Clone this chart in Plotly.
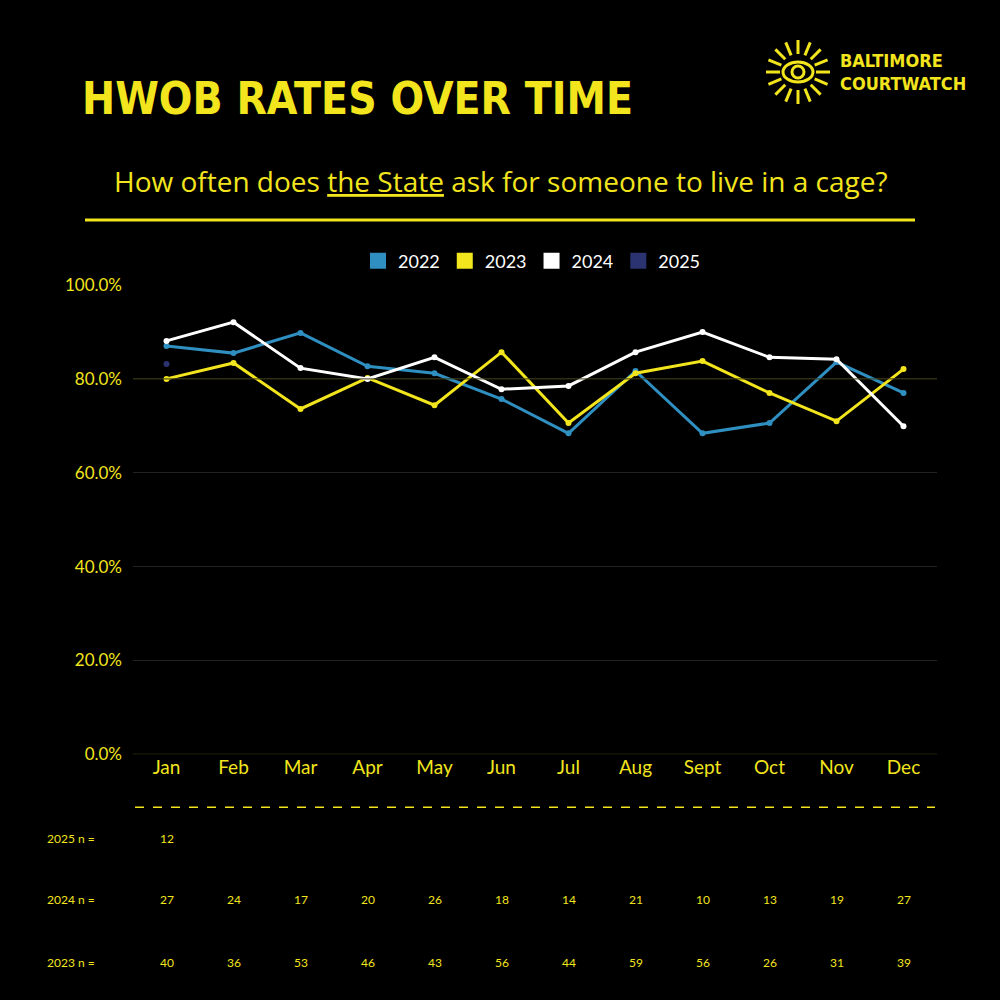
import plotly.graph_objects as go
import math

months = ["Jan","Feb","Mar","Apr","May","Jun","Jul","Aug","Sept","Oct","Nov","Dec"]
r2022 = [87.0,85.5,89.8,82.7,81.2,75.7,68.4,81.7,68.4,70.6,83.6,77.0]
r2023 = [80.0,83.4,73.6,80.2,74.4,85.7,70.6,81.2,83.8,77.0,71.0,82.1]
r2024 = [88.1,92.1,82.3,80.0,84.6,77.8,78.5,85.7,90.0,84.6,84.2,69.9]
r2025 = [83.2]
n2025 = [12]
n2024 = [27,24,17,20,26,18,14,21,10,13,19,27]
n2023 = [40,36,53,46,43,56,44,59,56,26,31,39]
yticks = [0, 20, 40, 60, 80, 100]

YEL = "#f2e51d"
colors = {"2022": "#2e8fc0", "2023": YEL, "2024": "#ffffff", "2025": "#2b3370"}

def fy(p):
    return (988.7 - p) / 978.7

fig = go.Figure()
for name, vals in [("2022", r2022), ("2023", r2023), ("2024", r2024), ("2025", r2025)]:
    fig.add_trace(go.Scatter(x=months[:len(vals)], y=vals, mode="lines+markers",
                             line=dict(color=colors[name], width=3),
                             marker=dict(color=colors[name], size=6), showlegend=False))
    fig.add_trace(go.Scatter(x=[None], y=[None], mode="markers", name=name,
                             marker=dict(symbol="square", size=22, color=colors[name])))

fig.update_layout(
    width=1000, height=1000, paper_bgcolor="black", plot_bgcolor="black",
    margin=dict(l=0, r=0, t=0, b=0),
    font=dict(family="Lato", color=YEL),
    legend=dict(orientation="h", x=0.532, xanchor="center", y=fy(260), yanchor="middle",
                font=dict(size=18, color="white"), bgcolor="rgba(0,0,0,0)"),
    xaxis=dict(domain=[0.133, 0.937], range=[-0.5, 11.5], showgrid=False,
               tickfont=dict(size=19, color=YEL), ticks="", showline=False, zeroline=False),
    yaxis=dict(domain=[fy(753), fy(284)], range=[0, 100], tickvals=yticks,
               ticktext=[f"{v:.1f}%" for v in yticks], gridcolor="#222222", zeroline=False,
               ticklabelstandoff=10, tickfont=dict(size=17, color=YEL)),
)

shapes = [
    dict(type="line", xref="paper", yref="y", x0=0.133, x1=0.937, y0=80, y1=80,
         line=dict(color="#3a3a10", width=1)),
    dict(type="line", xref="paper", yref="y", x0=0.133, x1=0.937, y0=0, y1=0,
         line=dict(color="#4a4a12", width=1)),
    dict(type="line", xref="paper", yref="paper", x0=0.085, x1=0.915, y0=fy(219), y1=fy(219),
         line=dict(color=YEL, width=3)),
    dict(type="line", xref="paper", yref="paper", x0=0.135, x1=0.935, y0=fy(806), y1=fy(806),
         line=dict(color=YEL, width=1.5, dash="dash")),
]
cx, cy = 798, 71
for k in range(16):
    a = 2*math.pi*k/16
    r1, r2 = 18, 32
    shapes.append(dict(type="line", xref="paper", yref="paper",
                       x0=(cx+r1*math.cos(a))/1000, y0=fy(cy+r1*math.sin(a)),
                       x1=(cx+r2*math.cos(a))/1000, y1=fy(cy+r2*math.sin(a)),
                       line=dict(color=YEL, width=3)))
shapes.append(dict(type="circle", xref="paper", yref="paper", x0=(cx-15)/1000, x1=(cx+15)/1000,
                   y0=fy(cy+10), y1=fy(cy-10), line=dict(color=YEL, width=3)))
shapes.append(dict(type="circle", xref="paper", yref="paper", x0=(cx-6)/1000, x1=(cx+6)/1000,
                   y0=fy(cy+6), y1=fy(cy-6), line=dict(color=YEL, width=3)))
fig.update_layout(shapes=shapes)

ann = []
ann.append(dict(text="<b>HWOB RATES OVER TIME</b>", x=0.08, y=fy(97), xref="paper", yref="paper",
                xanchor="left", yanchor="middle", showarrow=False,
                font=dict(family="DejaVu Sans Condensed", size=44, color=YEL)))
ann.append(dict(text="<b>BALTIMORE<br>COURTWATCH</b>", x=0.838, y=fy(71), xref="paper", yref="paper",
                xanchor="left", yanchor="middle", showarrow=False, align="left",
                font=dict(family="DejaVu Sans Condensed", size=18, color=YEL)))
ann.append(dict(text="How often does <u>the State</u> ask for someone to live in a cage?", x=0.5, y=fy(180),
                xref="paper", yref="paper", xanchor="center", yanchor="middle", showarrow=False,
                font=dict(family="Open Sans", size=28, color=YEL)))
for label, vals, py in [("2025 n =", n2025, 847), ("2024 n =", n2024, 908), ("2023 n =", n2023, 971)]:
    ann.append(dict(text=label, x=0.045, y=fy(py), xref="paper", yref="paper", showarrow=False,
                    xanchor="left", font=dict(size=12, color=YEL)))
    for m, v in zip(months, vals):
        ann.append(dict(text=str(v), x=m, y=fy(py), xref="x", yref="paper", showarrow=False,
                        font=dict(size=12, color=YEL)))
fig.update_layout(annotations=ann)
fig.write_html("out.html", config={"displayModeBar": False},
               post_script="document.body.style.margin='0';document.body.style.overflow='hidden';")
